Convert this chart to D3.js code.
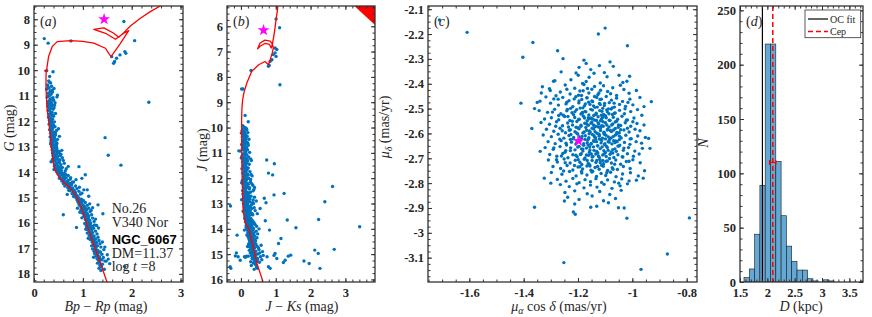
<!DOCTYPE html>
<html>
<head>
<meta charset="utf-8">
<script src="https://cdn.jsdelivr.net/npm/d3@7"></script>
<style>
  body { margin: 0; background: #fff; }
  svg text { font-family: "Liberation Serif", "Times New Roman", serif; fill: #262626; }
  .tick text { font-weight: bold; font-size: 12.5px; }
  .tick line { stroke: #333; }
</style>
</head>
<body>
<svg id="plot" width="872" height="317"></svg>
<script>
// ---------------- data ----------------
// panel (a): Gaia CMD, [Bp-Rp, G]
var gaiaStars = [
  [0.21,8.76],[0.29,8.94],[0.755,8.85],[1.84,8.09],[2.06,8.84],[1.59,9.47],[1.69,9.53],[1.65,9.66],[1.76,9.4],[1.88,9.34],[1.86,9.27],[1.63,9.73],
  [2.35,11.26],[1.455,12.65],[1.52,13.34],[1.78,13.73],[1.86,17.71],[0.60,15.68],[0.87,16.18],[0.35,13.6],[0.26,10.02],[1.41,15.64],[1.09,14.7],
  [1.31,15.29],[1.28,16.1],[1.45,16.95],[1.52,17.42],[1.55,17.6],[0.92,13.79],[1.05,14.11],[0.98,14.25],[1.12,14.95],[0.39,10.06],[0.32,10.25],
  [0.30,10.42],[0.34,10.5],[0.28,10.58],[0.36,10.63],[0.31,10.7],[0.26,10.75],[0.33,10.82],[0.38,10.86],[0.29,10.9],[0.35,10.95],[0.31,11.02],
  [0.27,11.06],[0.37,11.1],[0.33,11.14],[0.40,11.18],[0.30,11.22],[0.35,11.26],[0.28,11.3],[0.32,11.35],[0.42,11.38],[0.36,11.42],[0.30,11.46],
  [0.34,11.5],[0.39,11.54],[0.29,11.58],[0.33,11.62],[0.37,11.66],[0.44,11.7],[0.31,11.73],[0.35,11.77],[0.40,11.81],[0.30,11.85],[0.34,11.89],
  [0.38,11.93],[0.32,11.97],[0.36,12.0],[0.47,11.05],[0.43,11.28],[0.41,10.72],[0.48,10.98],
  [0.33,12.04],[0.37,12.08],[0.31,12.12],[0.40,12.15],[0.35,12.19],[0.43,12.22],[0.34,12.26],[0.38,12.3],[0.32,12.34],[0.46,12.37],[0.36,12.4],
  [0.41,12.44],[0.34,12.48],[0.39,12.52],[0.44,12.55],[0.36,12.58],[0.33,12.62],[0.42,12.65],[0.38,12.69],[0.48,12.72],[0.35,12.75],[0.40,12.79],
  [0.45,12.82],[0.37,12.86],[0.34,12.9],[0.43,12.93],[0.39,12.97],[0.50,12.3],[0.52,12.6],[0.47,12.88],[0.36,12.21],[0.41,12.6],[0.38,12.43],
  [0.35,12.83],[0.46,12.98],
  [0.36,13.01],[0.42,13.04],[0.39,13.08],[0.47,13.1],[0.37,13.13],[0.44,13.16],[0.52,13.19],[0.40,13.22],[0.38,13.25],[0.46,13.28],[0.55,13.3],
  [0.42,13.33],[0.39,13.36],[0.49,13.39],[0.44,13.42],[0.58,13.44],[0.41,13.47],[0.47,13.5],[0.53,13.52],[0.43,13.55],[0.40,13.58],[0.50,13.61],
  [0.46,13.64],[0.62,13.66],[0.44,13.69],[0.55,13.71],[0.48,13.74],[0.42,13.77],[0.52,13.8],[0.58,13.82],[0.45,13.85],[0.66,13.87],[0.50,13.9],
  [0.47,13.93],[0.56,13.95],[0.53,13.98],[0.43,13.4],[0.48,13.2],[0.51,13.58],[0.45,13.07],[0.41,13.9],[0.60,13.55],[0.54,13.35],[0.49,13.83],
  [0.70,13.78],[0.64,13.96],[0.38,13.5],[0.57,13.15],
  [0.48,14.01],[0.55,14.03],[0.62,14.06],[0.51,14.09],[0.58,14.12],[0.70,14.14],[0.53,14.17],[0.60,14.2],[0.66,14.23],[0.56,14.26],[0.74,14.28],
  [0.62,14.31],[0.59,14.34],[0.68,14.37],[0.81,14.39],[0.64,14.42],[0.72,14.45],[0.67,14.48],[0.77,14.5],[0.70,14.53],[0.85,14.55],[0.74,14.58],
  [0.69,14.61],[0.79,14.63],[0.88,14.66],[0.76,14.68],[0.82,14.71],[0.74,14.74],[0.92,14.76],[0.80,14.79],[0.85,14.82],[0.78,14.85],[0.95,14.87],
  [0.83,14.9],[0.88,14.93],[0.81,14.96],[0.90,14.98],[0.57,14.35],[0.65,14.1],[0.75,14.22],[0.63,14.55],[0.86,14.3],[0.71,14.72],[0.93,14.6],
  [0.98,14.83],[0.78,14.4],[0.60,14.45],[1.02,14.7],[0.87,14.95],[0.52,14.25],[0.68,14.88],
  [0.86,15.01],[0.92,15.04],[0.97,15.07],[0.88,15.1],[1.01,15.12],[0.94,15.15],[0.90,15.18],[1.05,15.2],[0.96,15.23],[0.92,15.26],[1.00,15.29],
  [1.09,15.31],[0.95,15.34],[1.03,15.37],[0.98,15.4],[1.12,15.42],[1.01,15.45],[0.96,15.48],[1.06,15.5],[1.00,15.53],[1.15,15.55],[1.04,15.58],
  [0.99,15.61],[1.09,15.63],[1.03,15.66],[1.18,15.68],[1.07,15.71],[1.02,15.74],[1.12,15.76],[1.06,15.79],[1.20,15.81],[1.10,15.84],[1.05,15.87],
  [1.14,15.89],[1.08,15.92],[1.23,15.94],[1.12,15.97],[0.93,15.3],[0.99,15.15],[1.14,15.25],[1.08,15.47],[0.94,15.58],[1.17,15.5],[1.11,15.7],
  [1.26,15.85],[0.98,15.8],[1.16,16.0],[1.20,15.4],[0.89,15.42],
  [1.04,16.02],[1.10,16.05],[1.15,16.08],[1.07,16.11],[1.19,16.13],[1.12,16.16],[1.08,16.19],[1.22,16.21],[1.14,16.24],[1.10,16.27],[1.18,16.3],
  [1.26,16.32],[1.13,16.35],[1.20,16.38],[1.16,16.41],[1.29,16.43],[1.18,16.46],[1.13,16.49],[1.23,16.51],[1.17,16.54],[1.31,16.56],[1.21,16.59],
  [1.16,16.62],[1.26,16.64],[1.20,16.67],[1.33,16.69],[1.23,16.72],[1.19,16.75],[1.28,16.77],[1.22,16.8],[1.35,16.82],[1.25,16.85],[1.21,16.88],
  [1.30,16.9],[1.24,16.93],[1.37,16.95],[1.27,16.98],[1.09,16.4],[1.06,16.25],[1.15,16.65],[1.32,16.2],[1.24,16.08],[1.11,16.6],[1.40,16.75],
  [1.18,16.9],
  [1.20,17.02],[1.26,17.05],[1.31,17.08],[1.23,17.11],[1.36,17.14],[1.28,17.17],[1.24,17.2],[1.39,17.23],[1.30,17.26],[1.27,17.3],[1.34,17.33],
  [1.42,17.36],[1.29,17.4],[1.36,17.43],[1.32,17.47],[1.45,17.5],[1.34,17.54],[1.30,17.58],[1.40,17.62],[1.35,17.66],[1.48,17.5],[1.38,17.72],
  [1.33,17.78],[1.44,17.82],[1.37,17.87],[1.22,17.35],[1.50,17.25],[1.43,17.05],
  [0.32,10.47],[0.29,10.66],[0.37,10.79],[0.34,10.88],[0.30,10.99],[0.39,11.08],[0.33,11.2],[0.28,11.41],[0.36,11.33],[0.41,11.48],[0.31,11.56],
  [0.35,11.69],[0.38,11.76],[0.33,11.91],[0.42,12.03],[0.34,12.14],[0.39,12.24],[0.36,12.35],[0.44,12.47],[0.37,12.53],[0.41,12.7],[0.35,12.65],
  [0.43,12.77],[0.39,12.92],[0.46,13.03],[0.41,13.19],[0.50,13.26],[0.44,13.31],[0.47,13.45],[0.52,13.63],[0.45,13.71],[0.55,13.88],[0.49,13.97],
  [0.57,14.05],[0.63,14.15],[0.61,14.28],[0.70,14.33],[0.66,14.46],[0.75,14.46],[0.72,14.62],[0.80,14.7],[0.84,14.78],[0.86,14.89],[0.91,15.09],
  [0.97,15.2],[1.02,15.33],[1.05,15.41],[1.07,15.6],[1.11,15.8],[1.13,16.1],[1.17,16.2],[1.19,16.55],[1.24,16.62],[1.27,16.88],[1.31,17.2],
  [1.33,17.37],[1.39,17.45]
];
// isochrone in (a), [Bp-Rp, G]
var isoGaia = [
  [1.56,18.6],[1.48,18.24],[1.40,17.8],[1.31,17.32],[1.22,16.85],[1.14,16.40],[1.07,15.98],[1.01,15.62],[0.95,15.33],[0.90,15.09],[0.84,14.88],
  [0.77,14.70],[0.70,14.56],[0.63,14.44],[0.53,14.24],[0.46,14.05],[0.43,13.92],[0.40,13.7],[0.38,13.39],[0.35,12.9],[0.33,12.48],[0.30,12.0],
  [0.27,11.56],[0.255,11.1],[0.245,10.65],[0.245,10.3],[0.25,10.05],[0.215,10.03],[0.26,9.99],[0.272,9.8],[0.30,9.45],[0.374,9.07],[0.476,8.88],
  [0.748,8.84],[1.0,8.87],[1.224,8.94],[1.463,9.14],[1.53,9.34],[1.578,9.467],[1.769,8.944],[1.939,8.446],[1.837,8.551],[1.667,8.787],
  [1.463,8.551],[1.224,8.394],[1.429,8.342],[1.633,8.551],[1.735,8.708],[1.837,8.525],[1.973,8.263],[2.177,7.962],[2.381,7.70],[2.585,7.478],
  [2.857,7.24]
];
var starGaia = [1.435, 8.0];

// panel (b): 2MASS CMD, [J-Ks, J]
var tmassStars = [
  [0.02,8.48],[0.29,7.75],[0.81,7.54],[0.98,6.86],[1.03,6.92],[0.98,7.05],[0.93,7.12],[1.01,7.19],[0.89,7.32],[0.84,7.38],[0.79,7.58],
  [1.01,5.71],[1.11,6.06],[1.12,8.31],[0.06,8.48],
  [0.74,11.28],[0.96,11.43],[0.79,11.8],[0.91,11.87],[0.95,12.66],[1.24,12.6],[2.63,12.33],[2.41,12.93],[2.23,13.63],[1.58,13.96],[1.33,13.65],
  [3.41,13.92],[2.68,14.81],[2.12,14.84],[2.22,14.97],[1.96,15.37],[1.81,15.27],[2.27,15.56],[-0.30,13.1],[-0.29,15.56],[-0.31,15.5],[-0.11,14.25],
  [-0.16,15.07],[-0.02,15.24],[1.15,14.38],[1.08,14.58],[1.36,15.08],[0.98,14.97],[1.03,15.17],[1.43,15.04],[0.79,15.5],[0.84,15.56],[1.27,15.24],
  [1.22,15.33],[0.72,12.97],[0.67,12.79],[0.82,14.05],[0.70,13.68],[0.62,14.9],[0.75,15.1],[0.95,15.05],[-0.08,15.1],[-0.13,14.95],[0.55,13.2],
  [0.12,9.52],[0.21,9.77],[0.05,9.93],[0.09,9.98],[0.14,10.02],[0.07,10.06],[0.17,10.1],[0.03,10.13],[0.11,10.17],[0.20,10.2],[0.06,10.24],
  [0.13,10.27],[0.09,10.31],[0.18,10.34],[0.04,10.37],[0.15,10.4],[0.10,10.44],[0.23,10.46],[0.07,10.49],[0.01,10.22],[0.16,10.06],[0.12,10.36],
  [0.12,10.52],[0.05,10.55],[0.18,10.58],[0.09,10.61],[0.14,10.64],[0.02,10.67],[0.21,10.7],[0.10,10.73],[0.07,10.76],[0.16,10.79],[0.12,10.82],
  [0.04,10.85],[0.19,10.88],[0.09,10.9],[-0.02,10.93],[0.14,10.96],[0.25,10.98],[0.11,11.01],[0.06,11.04],[0.17,11.07],[0.13,11.1],[0.03,11.13],
  [0.22,11.16],[0.09,11.19],[0.15,11.22],[0.28,11.24],[0.07,11.27],[0.12,11.3],[0.19,11.33],[0.05,11.36],[0.10,11.39],[0.16,11.42],[0.24,11.45],
  [0.08,11.48],[0.13,11.5],[-0.06,10.92],[0.20,10.63],[0.01,11.2],[0.30,11.3],[0.11,10.68],
  [0.06,11.52],[0.14,11.55],[0.10,11.58],[0.21,11.6],[0.03,11.63],[0.12,11.66],[0.17,11.69],[0.08,11.72],[0.26,11.74],[0.13,11.77],[0.05,11.8],
  [0.19,11.83],[0.10,11.86],[0.15,11.89],[0.32,11.91],[0.07,11.94],[0.12,11.97],[0.22,12.0],[0.09,12.03],[0.16,12.06],[0.04,12.09],[0.13,12.12],
  [0.27,12.14],[0.10,12.17],[0.18,12.2],[0.06,12.23],[0.14,12.26],[0.34,12.28],[0.11,12.31],[0.20,12.34],[0.08,12.37],[0.15,12.4],[0.24,12.43],
  [0.12,12.46],[0.05,12.49],[0.18,11.62],[0.29,11.85],[0.02,12.18],[0.25,12.38],[0.16,11.98],[0.37,12.45],[0.21,12.24],[0.09,11.9],[0.13,12.4],
  [0.28,12.05],[0.39,12.37],[0.35,12.5],[0.31,12.22],
  [0.09,12.52],[0.17,12.54],[0.13,12.57],[0.24,12.59],[0.06,12.62],[0.15,12.64],[0.20,12.67],[0.11,12.69],[0.29,12.71],[0.16,12.74],[0.08,12.76],
  [0.22,12.79],[0.13,12.81],[0.18,12.84],[0.35,12.86],[0.10,12.88],[0.15,12.91],[0.25,12.93],[0.12,12.96],[0.19,12.98],[0.07,13.01],[0.16,13.03],
  [0.30,13.05],[0.13,13.08],[0.21,13.1],[0.09,13.13],[0.17,13.15],[0.38,13.17],[0.14,13.2],[0.23,13.22],[0.11,13.25],[0.18,13.27],[0.27,13.29],
  [0.15,13.32],[0.08,13.34],[0.21,13.37],[0.32,13.39],[0.17,13.42],[0.12,13.44],[0.24,13.47],[0.19,13.49],[0.20,12.6],[0.26,12.82],[0.33,12.97],
  [0.27,13.12],[0.14,12.66],[0.10,13.19],[0.19,13.06],[0.23,12.72],[0.41,13.28],[0.29,13.43],[0.06,13.3],[0.36,13.0],[0.44,12.9],[0.21,13.33],
  [0.28,12.55],[0.31,13.2],[0.17,12.9],[0.25,13.38],[0.12,13.04],[0.02,12.85],[0.47,13.4],[0.39,12.75],[0.34,13.45],
  [0.14,13.51],[0.22,13.53],[0.18,13.56],[0.28,13.58],[0.11,13.6],[0.20,13.62],[0.25,13.65],[0.16,13.67],[0.34,13.69],[0.21,13.71],[0.13,13.73],
  [0.27,13.76],[0.19,13.78],[0.24,13.8],[0.40,13.82],[0.17,13.84],[0.22,13.86],[0.31,13.88],[0.19,13.9],[0.26,13.92],[0.15,13.95],[0.23,13.97],
  [0.36,13.99],[0.21,14.01],[0.28,14.03],[0.18,14.05],[0.25,14.07],[0.44,14.09],[0.22,14.11],[0.30,14.13],[0.20,14.15],[0.27,14.18],[0.35,14.2],
  [0.24,14.22],[0.17,14.24],[0.29,14.26],[0.39,14.28],[0.26,14.3],[0.21,14.32],[0.32,14.34],[0.27,14.37],[0.23,14.39],[0.36,14.41],[0.29,14.43],
  [0.25,14.45],[0.42,14.47],[0.31,14.49],[0.30,13.64],[0.37,13.75],[0.33,13.95],[0.26,13.6],[0.45,13.9],[0.15,13.87],[0.29,14.1],[0.38,14.15],
  [0.33,14.36],[0.12,13.55],[0.48,14.2],[0.20,14.27],[0.35,14.05],[0.24,13.7],[0.28,14.44],[0.40,14.4],[0.52,14.0],[0.18,13.98],[0.34,13.8],
  [0.23,14.16],[0.31,13.72],[0.46,14.35],[0.10,14.05],[0.37,14.25],[0.27,13.85],
  [0.25,14.51],[0.33,14.53],[0.28,14.56],[0.40,14.58],[0.22,14.6],[0.31,14.62],[0.36,14.65],[0.27,14.67],[0.46,14.69],[0.32,14.71],[0.26,14.73],
  [0.39,14.76],[0.30,14.78],[0.35,14.8],[0.52,14.82],[0.29,14.84],[0.34,14.86],[0.43,14.88],[0.31,14.9],[0.38,14.92],[0.27,14.95],[0.36,14.97],
  [0.49,14.99],[0.33,15.01],[0.41,15.03],[0.30,15.05],[0.37,15.08],[0.56,15.1],[0.35,15.12],[0.44,15.14],[0.32,15.17],[0.40,15.2],[0.60,15.22],
  [0.38,15.25],[0.47,15.28],[0.43,14.6],[0.50,14.75],[0.24,14.85],[0.45,15.0],[0.21,15.08],[0.54,14.95],[0.39,15.15],[0.64,15.05],[0.28,15.3],
  [0.58,14.65],[0.19,14.7],[0.48,15.18],[0.36,15.35],[0.42,15.4],[0.30,15.45],[0.53,15.32],[0.45,15.52],[0.16,15.08],[0.13,15.12],[0.10,15.1],
  [0.08,10.15],[0.13,10.47],[0.06,10.7],[0.15,10.85],[0.10,11.06],[0.18,11.25],[0.08,11.44],[0.16,11.57],[0.11,11.75],[0.20,11.88],[0.13,12.02],
  [0.07,12.16],[0.17,12.3],[0.12,12.44],[0.21,12.58],[0.14,12.71],[0.19,12.87],[0.11,12.99],[0.22,13.14],[0.16,13.28],[0.20,13.41],[0.23,13.59],
  [0.18,13.74],[0.26,13.83],[0.21,13.96],[0.29,14.06],[0.25,14.19],[0.31,14.28],[0.28,14.4],[0.34,14.5],[0.30,14.63],[0.37,14.72],[0.33,14.83],
  [0.38,14.98],[0.35,15.06],[0.42,15.18],[0.40,15.3],[0.44,15.44],[0.47,15.56],[0.38,15.6]
];
var iso2mass = [
  [0.70,16.6],[0.62,16.03],[0.54,15.7],[0.46,15.37],[0.40,15.0],[0.33,14.57],[0.28,14.3],[0.24,14.05],[0.18,13.88],[0.14,13.78],[0.10,13.6],
  [0.08,13.39],[0.06,13.1],[0.05,12.86],[0.04,12.2],[0.03,11.54],[0.02,10.49],[0.02,9.69],[0.03,9.2],[0.05,8.9],[0.09,8.6],[0.17,8.24],
  [0.31,7.78],[0.51,7.52],[0.69,7.39],[0.79,7.52],[0.84,7.32],[0.90,7.05],[0.93,6.86],[0.90,6.7],[0.84,6.59],[0.69,6.55],[0.55,6.66],
  [0.48,6.89],[0.55,6.79],[0.69,6.68],[0.82,6.72],[0.87,6.86],[0.91,6.66],[0.96,6.26],[1.01,5.73],[1.05,5.34],[1.08,4.94]
];
var iso2massTip = [[3.18,5.1],[3.95,5.1],[3.95,6.08]];
var star2mass = [0.65, 6.16];

// panel (c): proper motions, [pmra, pmdec]
var pmStars = [
  [-1.71,-2.143],[-1.608,-2.193],[-1.366,-2.234],[-1.403,-2.293],[-1.275,-2.267],[-1.255,-2.299],[-1.10,-2.176],[-1.125,-2.20],[-1.018,-2.247],
  [-1.41,-2.478],[-1.36,-2.897],[-1.324,-2.78],[-1.252,-3.12],[-0.968,-3.147],[-0.871,-3.085],[-0.79,-2.94],[-1.02,-2.941],[-1.051,-2.899],
  [-1.153,-2.897],[-1.217,-2.916],[-1.21,-2.925],[-1.25,-2.872],[-0.93,-2.472],
  [-1.36,-2.50],[-1.34,-2.47],[-1.37,-2.58],[-1.30,-2.80],[-0.94,-2.62],[-0.935,-2.66],[-0.96,-2.78],[-0.955,-2.75],[-1.29,-2.39],[-1.305,-2.42],
  [-1.02,-2.39],[-1.01,-2.37],[-1.07,-2.33],[-1.05,-2.80],[-1.03,-2.90],
  [-1.178,-2.305],[-1.170,-2.318],[-1.082,-2.312],[-1.196,-2.334],[-1.153,-2.343],[-1.121,-2.327],
  [-1.262,-2.352],[-1.199,-2.366],[-1.141,-2.358],[-1.093,-2.372],[-1.226,-2.384],[-1.170,-2.391],[-1.049,-2.366],[-1.118,-2.397],[-1.285,-2.388],
  [-1.159,-2.374],[-1.035,-2.395],[-1.207,-2.357],[-1.103,-2.355],[-1.183,-2.399],
  [-1.331,-2.412],[-1.247,-2.405],[-1.212,-2.418],[-1.178,-2.403],[-1.139,-2.411],[-1.106,-2.408],[-1.072,-2.416],[-1.031,-2.423],[-1.302,-2.427],
  [-1.265,-2.433],[-1.229,-2.441],[-1.193,-2.429],[-1.160,-2.437],[-1.127,-2.444],[-1.091,-2.431],[-1.058,-2.447],[-1.012,-2.438],[-1.281,-2.448],
  [-1.241,-2.422],[-1.149,-2.422],[-1.117,-2.426],[-1.080,-2.440],[-1.198,-2.446],[-0.985,-2.427],[-1.335,-2.437],[-1.044,-2.406],
  [-1.318,-2.453],[-1.289,-2.461],[-1.256,-2.455],[-1.233,-2.468],[-1.208,-2.452],[-1.186,-2.463],[-1.167,-2.457],[-1.149,-2.469],[-1.131,-2.455],
  [-1.114,-2.462],[-1.096,-2.451],[-1.077,-2.466],[-1.058,-2.458],[-1.036,-2.471],[-1.009,-2.462],[-0.972,-2.455],[-1.301,-2.478],[-1.272,-2.486],
  [-1.244,-2.481],[-1.219,-2.492],[-1.197,-2.477],[-1.176,-2.489],[-1.156,-2.483],[-1.138,-2.495],[-1.121,-2.479],[-1.103,-2.488],[-1.085,-2.476],
  [-1.066,-2.494],[-1.047,-2.483],[-1.025,-2.491],[-0.998,-2.485],[-1.227,-2.499],[-1.161,-2.474],[-1.109,-2.499],[-1.182,-2.497],[-1.067,-2.478],
  [-0.957,-2.492],[-1.350,-2.475],
  [-1.343,-2.508],[-1.312,-2.515],[-1.286,-2.503],[-1.263,-2.521],[-1.241,-2.509],[-1.222,-2.517],[-1.205,-2.504],[-1.189,-2.522],[-1.174,-2.511],
  [-1.160,-2.526],[-1.147,-2.506],[-1.133,-2.519],[-1.120,-2.508],[-1.106,-2.524],[-1.092,-2.513],[-1.078,-2.502],[-1.063,-2.518],[-1.047,-2.507],
  [-1.029,-2.521],[-1.006,-2.512],[-0.981,-2.504],[-1.298,-2.537],[-1.271,-2.545],[-1.249,-2.532],[-1.230,-2.548],[-1.212,-2.536],[-1.195,-2.543],
  [-1.180,-2.531],[-1.166,-2.549],[-1.152,-2.538],[-1.139,-2.546],[-1.126,-2.533],[-1.113,-2.541],[-1.099,-2.529],[-1.085,-2.547],[-1.070,-2.535],
  [-1.054,-2.543],[-1.038,-2.531],[-1.018,-2.546],[-0.994,-2.538],[-0.965,-2.527],[-1.323,-2.542],[-1.254,-2.527],[-1.184,-2.516],[-1.142,-2.528],
  [-1.117,-2.549],[-1.073,-2.524],[-1.216,-2.525],[-1.158,-2.541],[-1.094,-2.505],
  [-1.336,-2.556],[-1.305,-2.563],[-1.279,-2.553],[-1.257,-2.569],[-1.238,-2.558],[-1.220,-2.566],[-1.204,-2.552],[-1.189,-2.571],[-1.175,-2.559],
  [-1.162,-2.567],[-1.149,-2.554],[-1.137,-2.572],[-1.124,-2.561],[-1.112,-2.569],[-1.099,-2.557],[-1.086,-2.574],[-1.072,-2.562],[-1.058,-2.551],
  [-1.043,-2.568],[-1.026,-2.557],[-1.006,-2.571],[-0.983,-2.560],[-0.957,-2.566],[-1.316,-2.583],[-1.289,-2.591],[-1.266,-2.579],[-1.246,-2.597],
  [-1.228,-2.585],[-1.211,-2.593],[-1.196,-2.581],[-1.182,-2.598],[-1.168,-2.587],[-1.155,-2.594],[-1.142,-2.582],[-1.130,-2.599],[-1.117,-2.588],
  [-1.104,-2.595],[-1.091,-2.583],[-1.077,-2.592],[-1.063,-2.580],[-1.048,-2.597],[-1.031,-2.586],[-1.012,-2.594],[-0.990,-2.583],[-1.171,-2.576],
  [-1.143,-2.566],[-1.118,-2.579],[-1.094,-2.566],[-1.158,-2.590],[-1.126,-2.573],[-1.069,-2.586],[-1.201,-2.577],[-1.108,-2.553],[-1.052,-2.575],
  [-1.235,-2.574],[-0.972,-2.589],
  [-1.328,-2.606],[-1.298,-2.613],[-1.273,-2.603],[-1.252,-2.619],[-1.233,-2.608],[-1.216,-2.616],[-1.201,-2.602],[-1.187,-2.621],[-1.173,-2.609],
  [-1.160,-2.617],[-1.147,-2.604],[-1.135,-2.622],[-1.122,-2.611],[-1.110,-2.619],[-1.097,-2.607],[-1.084,-2.624],[-1.070,-2.612],[-1.056,-2.601],
  [-1.041,-2.618],[-1.024,-2.607],[-1.004,-2.621],[-0.980,-2.610],[-0.952,-2.616],[-1.310,-2.633],[-1.284,-2.641],[-1.262,-2.629],[-1.242,-2.647],
  [-1.224,-2.635],[-1.208,-2.643],[-1.193,-2.631],[-1.179,-2.648],[-1.166,-2.637],[-1.153,-2.644],[-1.140,-2.632],[-1.128,-2.649],[-1.115,-2.638],
  [-1.102,-2.645],[-1.089,-2.633],[-1.075,-2.642],[-1.061,-2.630],[-1.046,-2.647],[-1.029,-2.636],[-1.009,-2.644],[-0.986,-2.633],[-1.164,-2.626],
  [-1.138,-2.615],[-1.113,-2.628],[-1.088,-2.614],[-1.151,-2.640],[-1.121,-2.623],[-1.064,-2.637],[-1.195,-2.627],[-1.103,-2.603],[-1.048,-2.625],
  [-1.228,-2.624],[-0.966,-2.639],
  [-1.321,-2.657],[-1.291,-2.664],[-1.266,-2.653],[-1.245,-2.669],[-1.227,-2.658],[-1.211,-2.666],[-1.196,-2.652],[-1.182,-2.671],[-1.169,-2.659],
  [-1.156,-2.667],[-1.143,-2.654],[-1.131,-2.672],[-1.118,-2.661],[-1.105,-2.669],[-1.092,-2.657],[-1.078,-2.674],[-1.064,-2.662],[-1.049,-2.651],
  [-1.033,-2.668],[-1.014,-2.657],[-0.991,-2.671],[-0.963,-2.660],[-1.304,-2.685],[-1.278,-2.692],[-1.256,-2.681],[-1.237,-2.698],[-1.219,-2.686],
  [-1.203,-2.694],[-1.188,-2.682],[-1.174,-2.699],[-1.161,-2.688],[-1.148,-2.695],[-1.135,-2.683],[-1.122,-2.696],[-1.109,-2.687],[-1.096,-2.693],
  [-1.082,-2.684],[-1.068,-2.697],[-1.053,-2.686],[-1.037,-2.694],[-1.018,-2.682],[-0.996,-2.692],[-1.158,-2.676],[-1.127,-2.679],[-1.099,-2.677],
  [-1.187,-2.662],[-1.072,-2.665],[-1.248,-2.676],[-0.975,-2.683],[-1.339,-2.672],
  [-1.309,-2.707],[-1.276,-2.715],[-1.251,-2.703],[-1.229,-2.719],[-1.210,-2.708],[-1.193,-2.716],[-1.177,-2.704],[-1.162,-2.721],[-1.148,-2.709],
  [-1.134,-2.717],[-1.120,-2.705],[-1.106,-2.722],[-1.092,-2.711],[-1.077,-2.719],[-1.061,-2.707],[-1.043,-2.724],[-1.022,-2.713],[-0.998,-2.706],
  [-0.971,-2.718],[-1.292,-2.733],[-1.264,-2.741],[-1.240,-2.729],[-1.219,-2.747],[-1.200,-2.735],[-1.183,-2.743],[-1.167,-2.731],[-1.152,-2.748],
  [-1.137,-2.737],[-1.122,-2.744],[-1.107,-2.732],[-1.091,-2.749],[-1.074,-2.738],[-1.055,-2.745],[-1.033,-2.733],[-1.008,-2.741],[-1.157,-2.726],
  [-1.113,-2.728],[-1.186,-2.725],
  [-1.298,-2.757],[-1.259,-2.764],[-1.231,-2.753],[-1.207,-2.771],[-1.186,-2.759],[-1.167,-2.767],[-1.149,-2.755],[-1.132,-2.773],[-1.115,-2.761],
  [-1.098,-2.769],[-1.080,-2.756],[-1.060,-2.774],[-1.036,-2.763],[-1.007,-2.758],[-0.978,-2.771],[-1.276,-2.785],[-1.244,-2.792],[-1.219,-2.781],
  [-1.196,-2.798],[-1.174,-2.786],[-1.154,-2.794],[-1.134,-2.782],[-1.113,-2.797],[-1.091,-2.787],[-1.066,-2.795],[-1.039,-2.783],[-1.012,-2.791],
  [-0.985,-2.788],
  [-1.265,-2.806],[-1.232,-2.814],[-1.204,-2.803],[-1.178,-2.819],[-1.154,-2.808],[-1.130,-2.816],[-1.104,-2.805],[-1.075,-2.821],[-1.045,-2.811],
  [-1.018,-2.803],[-1.248,-2.838],[-1.212,-2.831],[-1.166,-2.843],[-1.120,-2.834],[-1.083,-2.846],[-1.041,-2.829],
  [-1.238,-2.857],[-1.196,-2.866],[-1.148,-2.852],[-1.106,-2.871],[-1.062,-2.862],[-1.212,-2.884],[-1.131,-2.893],[-1.088,-2.879],
  [-1.187,-2.447],[-1.143,-2.489],[-1.211,-2.512],[-1.096,-2.537],[-1.169,-2.561],[-1.124,-2.602],[-1.078,-2.618],[-1.201,-2.655],[-1.151,-2.683],
  [-1.109,-2.709],[-1.232,-2.587],[-1.057,-2.596],[-1.174,-2.624],[-1.132,-2.548],[-1.088,-2.501],[-1.165,-2.419],[-1.119,-2.463],[-1.241,-2.474],
  [-1.072,-2.679],[-1.193,-2.734],[-1.146,-2.752],[-1.101,-2.641],[-1.063,-2.554],[-1.218,-2.622],[-1.137,-2.593],[-1.184,-2.519],[-1.092,-2.586],
  [-1.157,-2.655],[-1.125,-2.691],[-1.208,-2.688],[-1.047,-2.611],[-1.177,-2.594],[-1.114,-2.527],[-1.082,-2.548],[-1.139,-2.451],[-1.196,-2.469],
  [-1.059,-2.672],[-1.166,-2.709],[-1.128,-2.733],[-1.094,-2.758],[-1.153,-2.503],[-1.107,-2.571],[-1.221,-2.551],[-1.069,-2.629],[-1.182,-2.663],
  [-1.136,-2.617],[-1.084,-2.701],[-1.244,-2.639],[-1.162,-2.537],[-1.118,-2.484],[-1.205,-2.598],[-1.141,-2.668],[-1.099,-2.622],[-1.173,-2.481],
  [-1.066,-2.519],[-1.131,-2.709],[-1.189,-2.567],[-1.053,-2.651],[-1.214,-2.461],[-1.111,-2.654],[-1.148,-2.579],[-1.076,-2.566],[-1.199,-2.706],
  [-1.123,-2.437],[-1.161,-2.621],[-1.089,-2.668],[-1.237,-2.532],[-1.134,-2.524],[-1.105,-2.598],[-1.179,-2.641],[-1.043,-2.585],[-1.156,-2.731],
  [-1.115,-2.571],[-1.192,-2.498],[-1.071,-2.744],[-1.146,-2.472],[-1.127,-2.651],[-1.207,-2.575],[-1.086,-2.521],[-1.169,-2.687],[-1.102,-2.479],
  [-1.228,-2.669],[-1.141,-2.609],[-1.062,-2.606],[-1.185,-2.612],[-1.118,-2.717],[-1.152,-2.559],[-1.095,-2.652],[-1.176,-2.538],[-1.129,-2.494],
  [-1.213,-2.729],[-1.081,-2.588],[-1.145,-2.693],[-1.198,-2.544],[-1.108,-2.535],[-1.167,-2.456],[-1.056,-2.633],[-1.136,-2.571],[-1.191,-2.685],
  [-1.121,-2.606],[-1.074,-2.497],[-1.159,-2.601],[-1.226,-2.604],[-1.097,-2.712],[-1.181,-2.428],[-1.132,-2.633],[-1.065,-2.724],[-1.204,-2.636],
  [-1.112,-2.511],[-1.147,-2.541],[-1.187,-2.753],[-1.085,-2.635],[-1.163,-2.647],[-1.126,-2.558],[-1.239,-2.503],[-1.104,-2.683],[-1.171,-2.513],
  [-1.051,-2.566],[-1.143,-2.629],[-1.196,-2.613],
  [-1.282,-2.571],[-1.267,-2.623],[-1.294,-2.514],[-1.261,-2.691],[-1.031,-2.659],[-1.018,-2.579],[-1.027,-2.501],[-1.012,-2.712],[-1.273,-2.462],
  [-1.253,-2.751],[-1.008,-2.622],[-1.289,-2.658],[-1.022,-2.547],[-1.258,-2.589],[-1.035,-2.695],[-1.271,-2.528],[-0.998,-2.553],[-1.247,-2.718],
  [-1.016,-2.475],[-1.279,-2.706]
];
var starPm = [-1.198, -2.63];

// panel (d): distance histogram
var binStart = 1.573, binWidth = 0.097;
var distCounts = [4,12,44,89,219,219,111,61,33,19,11,11,3,1,0,2,1,0,0,0,0,0,1];
var dOcFit = 1.91, dCep = 2.10, dCepErr = [2.04, 2.155], dCepErrY = 110;

// ---------------- layout ----------------
var svg = d3.select('#plot');
var blue = '#0072BD';

var panels = {
  a: { left: 34, right: 183, xd: [0, 3.05], yd: [7.48, 18.32],
       xt: [0, 1, 2, 3], yt: d3.range(8, 19), xm: d3.range(0, 3.05, 0.2), ym: d3.range(7.5, 18.3, 0.25) },
  b: { left: 227, right: 375, xd: [-0.4, 3.85], yd: [5.2, 16.1],
       xt: [0, 1, 2, 3], yt: d3.range(6, 17), xm: d3.range(-0.4, 3.85, 0.2), ym: d3.range(5.25, 16.1, 0.25) },
  c: { left: 428, right: 697, xd: [-1.752, -0.762], yd: [-2.087, -3.198],
       xt: [-1.6, -1.4, -1.2, -1, -0.8], yt: [-2.1, -2.2, -2.3, -2.4, -2.5, -2.6, -2.7, -2.8, -2.9, -3, -3.1],
       xm: d3.range(-1.75, -0.76, 0.05), ym: d3.range(-2.1, -3.2, -0.025) },
  d: { left: 740, right: 863, xd: [1.5, 3.75], yd: [254, 0],
       xt: [1.5, 2, 2.5, 3, 3.5], yt: [0, 50, 100, 150, 200, 250], xm: d3.range(1.5, 3.75, 0.1), ym: d3.range(0, 254, 10) }
};
var plotTop = 6, plotBottom = 282;

function setup(key) {
  var p = panels[key];
  var w = p.right - p.left, h = plotBottom - plotTop;
  p.w = w; p.h = h;
  p.x = d3.scaleLinear().domain(p.xd).range([0, w]);
  p.y = d3.scaleLinear().domain(p.yd).range([0, h]);
  p.g = svg.append('g').attr('transform', 'translate(' + p.left + ',' + plotTop + ')');
  svg.append('clipPath').attr('id', 'clip-' + key)
    .append('rect').attr('width', w).attr('height', h);
  p.plot = p.g.append('g').attr('clip-path', 'url(#clip-' + key + ')');
  return p;
}

function fmt(v) { return String(Math.round(v * 100) / 100); }

// ticks pointing inward on all four sides, labels on left and bottom
function drawAxes(p) {
  var g = p.g;
  var axes = [
    [d3.axisBottom(p.x).tickValues(p.xt).tickFormat(fmt).tickSize(-4).tickPadding(6.5), 'translate(0,' + p.h + ')'],
    [d3.axisTop(p.x).tickValues(p.xt).tickFormat('').tickSize(-4), ''],
    [d3.axisLeft(p.y).tickValues(p.yt).tickFormat(fmt).tickSize(-4).tickPadding(4), ''],
    [d3.axisRight(p.y).tickValues(p.yt).tickFormat('').tickSize(-4), 'translate(' + p.w + ',0)'],
    [d3.axisBottom(p.x).tickValues(p.xm).tickFormat('').tickSize(-2.5), 'translate(0,' + p.h + ')'],
    [d3.axisTop(p.x).tickValues(p.xm).tickFormat('').tickSize(-2.5), ''],
    [d3.axisLeft(p.y).tickValues(p.ym).tickFormat('').tickSize(-2.5), ''],
    [d3.axisRight(p.y).tickValues(p.ym).tickFormat('').tickSize(-2.5), 'translate(' + p.w + ',0)']
  ];
  axes.forEach(function (a) {
    var ag = g.append('g').attr('transform', a[1]).call(a[0]);
    ag.select('.domain').remove();
    ag.selectAll('.tick text').style('font-family', '"Liberation Serif", serif');
  });
  g.append('rect').attr('width', p.w).attr('height', p.h)
    .attr('fill', 'none').attr('stroke', '#333').attr('stroke-width', 1.3);
}

function dots(p, data) {
  p.plot.selectAll(null).data(data).enter().append('circle')
    .attr('cx', function (d) { return p.x(d[0]); })
    .attr('cy', function (d) { return p.y(d[1]); })
    .attr('r', 1.7).attr('fill', blue);
}

function curve(p, data) {
  p.plot.append('path').datum(data)
    .attr('d', d3.line().x(function (d) { return p.x(d[0]); }).y(function (d) { return p.y(d[1]); }))
    .attr('fill', 'none').attr('stroke', '#ff0000').attr('stroke-width', 1.3).attr('stroke-linejoin', 'round');
}

function star(p, d) {
  p.plot.append('path').attr('d', d3.symbol(d3.symbolStar).size(44)())
    .attr('transform', 'translate(' + p.x(d[0]) + ',' + p.y(d[1]) + ')')
    .attr('fill', '#ff00ff');
}

function panelLabel(p, letter) {
  p.g.append('text').attr('x', 6).attr('y', 20).style('font-size', '14px')
    .html('(<tspan font-style="italic">' + letter + '</tspan>)');
}

// ---------------- panel (a) ----------------
var pa = setup('a');
dots(pa, gaiaStars);
curve(pa, isoGaia);
star(pa, starGaia);
drawAxes(pa);
panelLabel(pa, 'a');
var note = pa.g.append('g').attr('transform', 'translate(' + (111.7 - pa.left) + ',0)');
note.append('text').attr('y', 213 - plotTop).style('font-size', '14px').text('No.26');
note.append('text').attr('y', 227 - plotTop).style('font-size', '14px').text('V340 Nor');
note.append('text').attr('y', 244 - plotTop).style('font-size', '13px')
  .style('font-family', '"Liberation Sans", Arial, sans-serif').style('font-weight', 'bold').style('fill', '#000').text('NGC_6067');
note.append('text').attr('y', 257.5 - plotTop).style('font-size', '14px').text('DM=11.37');
note.append('text').attr('y', 271 - plotTop).style('font-size', '14px')
  .html('log <tspan font-style="italic">t</tspan> =8');

// ---------------- panel (b) ----------------
var pb = setup('b');
dots(pb, tmassStars);
curve(pb, iso2mass);
pb.plot.append('path').datum(iso2massTip)
  .attr('d', d3.line().x(function (d) { return pb.x(d[0]); }).y(function (d) { return pb.y(d[1]); }))
  .attr('fill', '#ff0000');
star(pb, star2mass);
drawAxes(pb);
panelLabel(pb, 'b');

// ---------------- panel (c) ----------------
var pc = setup('c');
dots(pc, pmStars);
star(pc, starPm);
drawAxes(pc);
panelLabel(pc, 'c');

// ---------------- panel (d) ----------------
var pd = setup('d');
pd.plot.selectAll(null).data(distCounts).enter().append('rect')
  .attr('x', function (d, i) { return pd.x(binStart + i * binWidth); })
  .attr('width', pd.x(binStart + binWidth) - pd.x(binStart))
  .attr('y', function (d) { return pd.y(d); })
  .attr('height', function (d) { return pd.y(0) - pd.y(d); })
  .attr('fill', '#64a8d6').attr('stroke', '#1a1a1a').attr('stroke-width', 0.6);
pd.plot.append('line').attr('x1', pd.x(dOcFit)).attr('x2', pd.x(dOcFit)).attr('y1', 0).attr('y2', pd.h)
  .attr('stroke', '#000').attr('stroke-width', 1.2);
pd.plot.append('line').attr('x1', pd.x(dCep)).attr('x2', pd.x(dCep)).attr('y1', 0).attr('y2', pd.h)
  .attr('stroke', '#ff0000').attr('stroke-width', 1.5).attr('stroke-dasharray', '5,3');
var ey = pd.y(dCepErrY);
pd.plot.append('line').attr('x1', pd.x(dCepErr[0])).attr('x2', pd.x(dCepErr[1])).attr('y1', ey).attr('y2', ey)
  .attr('stroke', '#ff0000').attr('stroke-width', 1.2);
dCepErr.forEach(function (v) {
  pd.plot.append('line').attr('x1', pd.x(v)).attr('x2', pd.x(v)).attr('y1', ey - 2.5).attr('y2', ey + 2.5)
    .attr('stroke', '#ff0000').attr('stroke-width', 1.2);
});
drawAxes(pd);
panelLabel(pd, 'd');

// legend
var lg = pd.g.append('g').attr('transform', 'translate(' + (805 - pd.left) + ',' + (10 - plotTop) + ')');
lg.append('rect').attr('width', 55.7).attr('height', 27.7).attr('fill', '#fff').attr('stroke', '#333').attr('stroke-width', 0.8);
lg.append('line').attr('x1', 3).attr('x2', 23).attr('y1', 9).attr('y2', 9).attr('stroke', '#000').attr('stroke-width', 1.2);
lg.append('line').attr('x1', 3).attr('x2', 23).attr('y1', 21.5).attr('y2', 21.5).attr('stroke', '#ff0000')
  .attr('stroke-width', 1.5).attr('stroke-dasharray', '5,3');
lg.append('text').attr('x', 25).attr('y', 12.5).style('font-size', '10px').text('OC fit');
lg.append('text').attr('x', 25).attr('y', 25).style('font-size', '10px').text('Cep');

// ---------------- axis titles ----------------
var lab = svg.append('g').style('font-size', '14px');
function xTitle(cx, html) {
  lab.append('text').attr('x', cx).attr('y', 311).attr('text-anchor', 'middle').html(html);
}
function yTitle(cx, cy, html) {
  lab.append('text').attr('transform', 'translate(' + cx + ',' + cy + ') rotate(-90)')
    .attr('text-anchor', 'middle').html(html);
}
xTitle(106, '<tspan font-style="italic">Bp</tspan> \u2212 <tspan font-style="italic">Rp</tspan> (mag)');
xTitle(302, '<tspan font-style="italic">J</tspan> \u2212 <tspan font-style="italic">Ks</tspan> (mag)');
xTitle(559, '<tspan font-style="italic">\u03bc</tspan><tspan font-style="italic" font-size="10px" dy="3">\u03b1</tspan><tspan dy="-3"> cos </tspan><tspan font-style="italic">\u03b4</tspan> (mas/yr)');
xTitle(801, '<tspan font-style="italic">D</tspan> (kpc)');
yTitle(14, 128, '<tspan font-style="italic">G</tspan> (mag)');
yTitle(207, 150, '<tspan font-style="italic">J</tspan> (mag)');
yTitle(389, 127, '<tspan font-style="italic">\u03bc</tspan><tspan font-style="italic" font-size="10px" dy="3">\u03b4</tspan><tspan dy="-3"> (mas/yr)</tspan>');
yTitle(708, 143, '<tspan font-style="italic">N</tspan>');
</script>
</body>
</html>
